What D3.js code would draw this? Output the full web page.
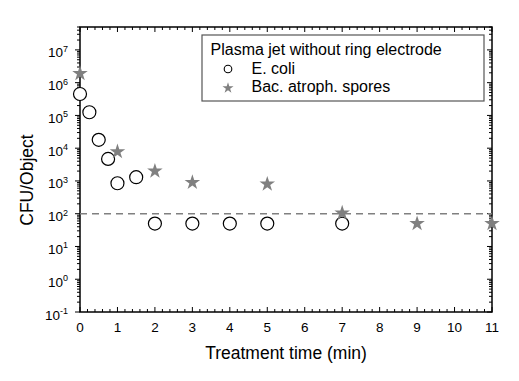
<!DOCTYPE html>
<html><head><meta charset="utf-8">
<script src="https://cdn.jsdelivr.net/npm/d3@7"></script>
<style>body{margin:0;background:#fff}svg{display:block}text{font-family:"Liberation Sans",Arial,sans-serif}</style>
</head><body>
<script>
const ecoliTime = [0, 0.25, 0.5, 0.75, 1, 1.5, 2, 3, 4, 5, 7];
const ecoliCFU  = [4.5e5, 1.25e5, 1.8e4, 4.7e3, 850, 1300, 50, 50, 50, 50, 50];
const sporeTime = [0, 1, 2, 3, 5, 7, 9, 11];
const sporeCFU  = [1.9e6, 7.8e3, 2.0e3, 900, 800, 105, 50, 50];
const detectionLimit = 100;
const xTicks = [0,1,2,3,4,5,6,7,8,9,10,11];
const yExponents = [-1,0,1,2,3,4,5,6,7];
const legendTitle = "Plasma jet without ring electrode";
const seriesNames = ["E. coli", "Bac. atroph. spores"];
const xTitle = "Treatment time (min)";
const yTitle = "CFU/Object";

const W = 519, H = 381;
const L = 80, R = 492, T = 27, B = 312;
const svg = d3.select("body").append("svg").attr("width", W).attr("height", H);
const x = d3.scaleLinear().domain([0, 11]).range([L, R]);
const y = d3.scaleLog().domain([0.1, 5e7]).range([B, T]);
const gray = "#808080";

// minor ticks
const xMinor = d3.range(0, 11.001, 0.2).filter(v => Math.abs(v - Math.round(v)) > 1e-6);
const yMinor = [];
for (let e = -1; e <= 7; e++) for (let k = 2; k <= 9; k++) { const v = k * Math.pow(10, e); if (v <= 5e7) yMinor.push(v); }
const yMajor = yExponents.map(e => Math.pow(10, e));

const ax = svg.append("g").attr("stroke", "#000").attr("stroke-width", 1);
// bottom (inward)
xTicks.forEach(v => ax.append("line").attr("x1", x(v)).attr("x2", x(v)).attr("y1", B).attr("y2", B - 5));
xMinor.forEach(v => ax.append("line").attr("x1", x(v)).attr("x2", x(v)).attr("y1", B).attr("y2", B - 3));
// top (inward)
xTicks.forEach(v => ax.append("line").attr("x1", x(v)).attr("x2", x(v)).attr("y1", T).attr("y2", T + 5));
xMinor.forEach(v => ax.append("line").attr("x1", x(v)).attr("x2", x(v)).attr("y1", T).attr("y2", T + 3));
// left (outward)
yMajor.forEach(v => ax.append("line").attr("x1", L).attr("x2", L - 5).attr("y1", y(v)).attr("y2", y(v)));
yMinor.forEach(v => ax.append("line").attr("x1", L).attr("x2", L - 3).attr("y1", y(v)).attr("y2", y(v)));
// right (inward)
yMajor.forEach(v => ax.append("line").attr("x1", R).attr("x2", R - 5).attr("y1", y(v)).attr("y2", y(v)));
yMinor.forEach(v => ax.append("line").attr("x1", R).attr("x2", R - 3).attr("y1", y(v)).attr("y2", y(v)));

// frame
svg.append("rect").attr("x", L).attr("y", T).attr("width", R - L).attr("height", B - T)
  .attr("fill", "none").attr("stroke", "#000").attr("stroke-width", 1.5);

// tick labels
svg.append("g").selectAll("text").data(xTicks).join("text")
  .attr("x", d => x(d)).attr("y", 332).attr("text-anchor", "middle")
  .attr("font-size", 13.5).text(d => d);
const yl = svg.append("g").selectAll("text").data(yExponents).join("text")
  .attr("x", 68).attr("y", d => y(Math.pow(10, d)) + 7.5).attr("text-anchor", "end")
  .attr("font-size", 13.5);
yl.append("tspan").text("10");
yl.append("tspan").attr("dy", -5.5).attr("font-size", 9).text(d => d);

// axis titles
svg.append("text").attr("x", (L + R) / 2).attr("y", 358.5).attr("text-anchor", "middle")
  .attr("font-size", 17.5).text(xTitle);
svg.append("text").attr("transform", `translate(33,180) rotate(-90)`)
  .attr("text-anchor", "middle").attr("font-size", 17.5).text(yTitle);

// detection limit
svg.append("line").attr("x1", L).attr("x2", R).attr("y1", y(detectionLimit)).attr("y2", y(detectionLimit))
  .attr("stroke", gray).attr("stroke-width", 1.5).attr("stroke-dasharray", "7,5");

// data
const ecoli = ecoliTime.map((t, i) => [t, ecoliCFU[i]]);
const spores = sporeTime.map((t, i) => [t, sporeCFU[i]]);
svg.append("g").selectAll("circle").data(ecoli).join("circle")
  .attr("cx", d => x(d[0])).attr("cy", d => y(d[1])).attr("r", 6.5)
  .attr("fill", "#fff").attr("stroke", "#000").attr("stroke-width", 1.2);
const star = d3.symbol().type(d3.symbolStar).size(75);
svg.append("g").selectAll("path").data(spores).join("path")
  .attr("transform", d => `translate(${x(d[0])},${y(d[1])})`).attr("d", star).attr("fill", gray);

// legend
const lg = svg.append("g");
lg.append("rect").attr("x", 202).attr("y", 35).attr("width", 282).attr("height", 66)
  .attr("fill", "#fff").attr("stroke", "#555").attr("stroke-width", 1.2);
lg.append("text").attr("x", 210.5).attr("y", 54.5).attr("font-size", 16).text(legendTitle);
lg.append("circle").attr("cx", 228).attr("cy", 69).attr("r", 3.8).attr("fill", "#fff").attr("stroke", "#000").attr("stroke-width", 1.1);
lg.append("path").attr("transform", "translate(228,88)").attr("d", d3.symbol().type(d3.symbolStar).size(38)).attr("fill", gray);
lg.append("text").attr("x", 251.5).attr("y", 74).attr("font-size", 16).text(seriesNames[0]);
lg.append("text").attr("x", 251.5).attr("y", 92.3).attr("font-size", 16).text(seriesNames[1]);
</script>
</body></html>
